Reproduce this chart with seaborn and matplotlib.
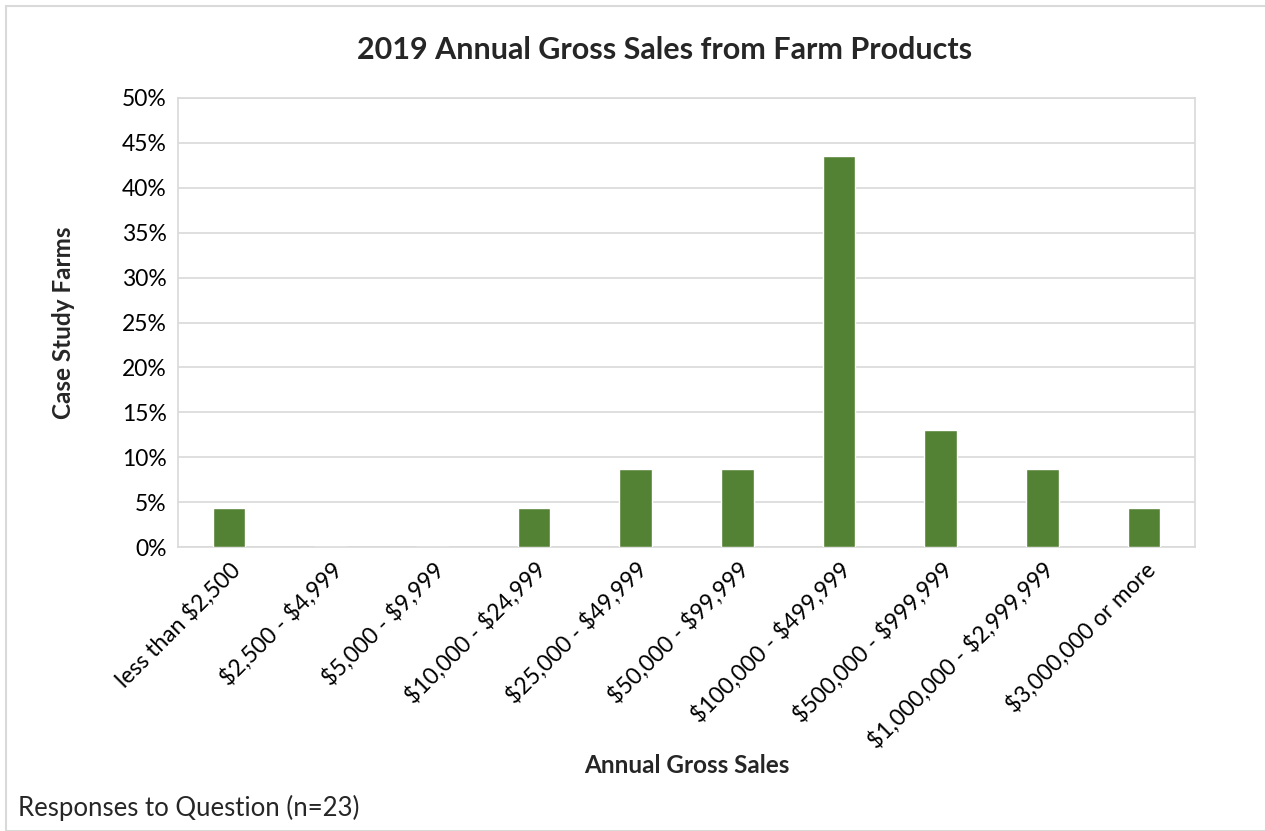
import matplotlib
matplotlib.use("Agg")
import matplotlib.pyplot as plt
from matplotlib.patches import Rectangle
from matplotlib.ticker import PercentFormatter
import seaborn as sns
import pandas as pd

# data
categories = ["less than $2,500", "$2,500 - $4,999", "$5,000 - $9,999",
              "$10,000 - $24,999", "$25,000 - $49,999", "$50,000 - $99,999",
              "$100,000 - $499,999", "$500,000 - $999,999",
              "$1,000,000 - $2,999,999", "$3,000,000 or more"]
share = [4.35, 0, 0, 4.35, 8.7, 8.7, 43.5, 13.0, 8.7, 4.35]

df = pd.DataFrame({"Annual Gross Sales": categories, "Case Study Farms": share})

sns.set_style("white")
plt.rcParams["font.family"] = ["Lato", "DejaVu Sans"]
plt.rcParams["text.parse_math"] = False

fig = plt.figure(figsize=(12.65, 8.31), dpi=100)
ax = fig.add_axes([178 / 1265, 1 - 547 / 831, (1195 - 178) / 1265, (547 - 98) / 831])

sns.barplot(data=df, x="Annual Gross Sales", y="Case Study Farms", color="#548235",
            saturation=1, width=0.32, ax=ax, zorder=3)

ax.set_ylim(0, 50)
ax.set_xlim(-0.5, len(categories) - 0.5)
ax.set_yticks(range(0, 51, 5))
ax.yaxis.set_major_formatter(PercentFormatter(decimals=0))
ax.grid(axis="y", color="#d9d9d9", linewidth=1.2, zorder=0)
for s in ax.spines.values():
    s.set_visible(True)
    s.set_color("#d9d9d9")
    s.set_linewidth(1.2)

ax.tick_params(axis="both", length=0, labelsize=16.5, colors="#000000", pad=8)
ax.set_xticks(range(len(categories)))
ax.set_xticklabels(categories, rotation=45, ha="right", rotation_mode="anchor")

ax.set_xlabel("Annual Gross Sales", fontsize=17.5, fontweight="bold", labelpad=1)
ax.set_ylabel("Case Study Farms", fontsize=17.5, fontweight="bold", labelpad=34)
fig.text(0.525, 1 - 50 / 831, "2019 Annual Gross Sales from Farm Products",
         ha="center", va="center", fontsize=22, fontweight="bold")
fig.text(18 / 1265, 1 - 808 / 831, "Responses to Question (n=23)",
         ha="left", va="center", fontsize=18.5)

fig.patches.append(Rectangle((6 / 1265, 0), 1, 1 - 6 / 831, transform=fig.transFigure,
                             fill=False, edgecolor="#d9d9d9", linewidth=1.5))

fig.savefig("out.png", dpi=100)
